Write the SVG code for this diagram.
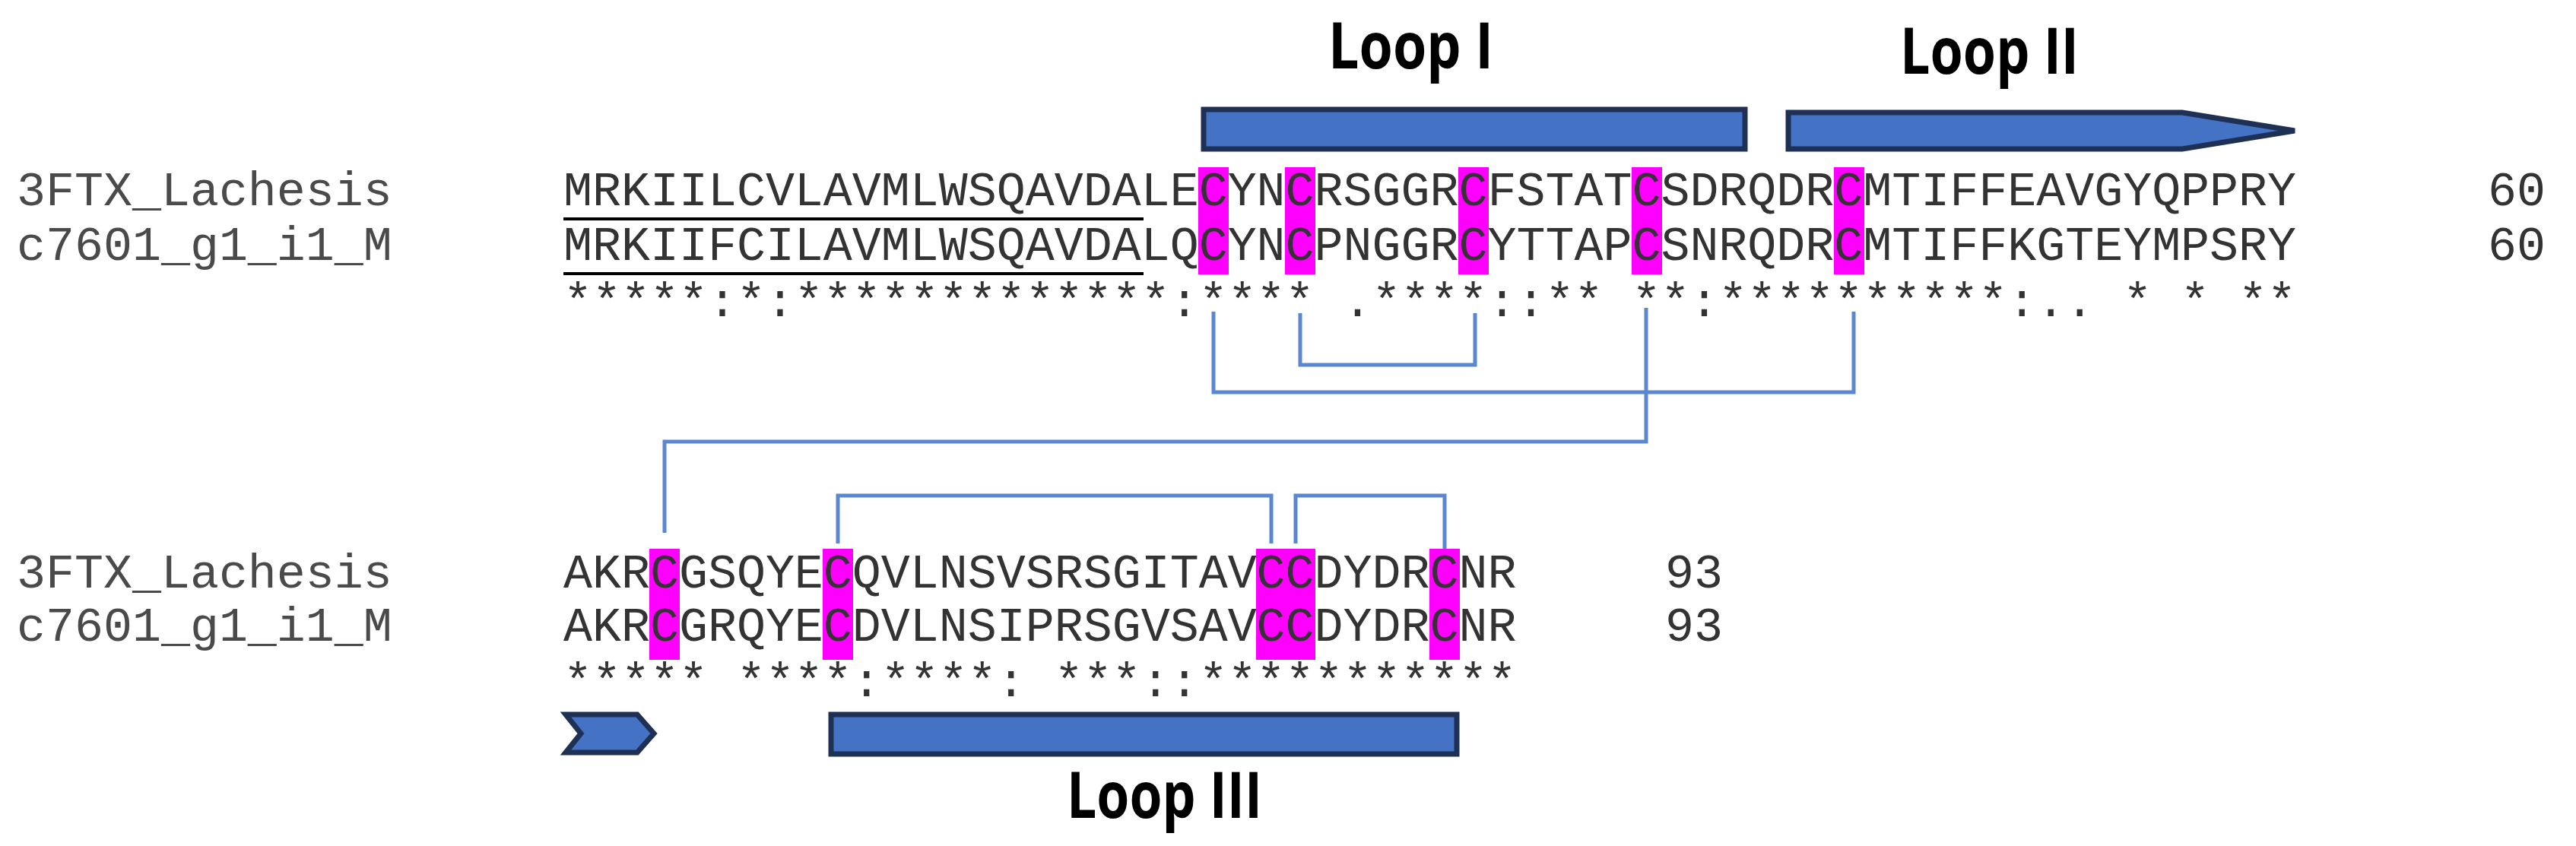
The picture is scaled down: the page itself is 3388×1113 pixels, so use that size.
<svg xmlns="http://www.w3.org/2000/svg" width="3388" height="1113" viewBox="0 0 3388 1113">
<style>
.seq{font-family:"Liberation Mono","Courier New",monospace;font-size:63.3px;fill:#333;white-space:pre}
.name{font-family:"Liberation Mono","Courier New",monospace;font-size:63.3px;fill:#4a4a4a;white-space:pre}
.lbl{font-family:"Open Sans","Liberation Sans",sans-serif;font-weight:bold;font-size:84px;fill:#000}
.cys{fill:#FF00FF}
.ss{fill:none;stroke:#5B86D0;stroke-width:5}
.struct{fill:#4472C4;stroke:#1F3055;stroke-width:7}
</style>
<rect width="3388" height="1113" fill="#fff"/>
<g id="cysteines">
<rect class="cys" x="1576" y="220" width="40" height="141"/>
<rect class="cys" x="1690" y="220" width="40" height="141"/>
<rect class="cys" x="1918" y="220" width="40" height="141"/>
<rect class="cys" x="2146" y="220" width="40" height="141"/>
<rect class="cys" x="2412" y="220" width="40" height="141"/>
<rect class="cys" x="854" y="722" width="40" height="146"/>
<rect class="cys" x="1082" y="722" width="40" height="146"/>
<rect class="cys" x="1652" y="722" width="78" height="146"/>
<rect class="cys" x="1880" y="722" width="40" height="146"/>
</g>
<g id="block1">
<text class="name" x="22" y="270">3FTX_Lachesis</text>
<text class="name" x="22" y="342">c7601_g1_i1_M</text>
<text class="seq" x="741" y="270">MRKIILCVLAVMLWSQAVDALECYNCRSGGRCFSTATCSDRQDRCMTIFFEAVGYQPPRY</text>
<text class="seq" x="741" y="342">MRKIIFCILAVMLWSQAVDALQCYNCPNGGRCYTTAPCSNRQDRCMTIFFKGTEYMPSRY</text>
<text class="seq" x="741" y="416">*****:*:*************:**** .****::** **:**********:.. * * **</text>
<text class="seq" x="3272" y="270">60</text>
<text class="seq" x="3272" y="342">60</text>
<rect x="741" y="286" width="763" height="4" fill="#000"/>
<rect x="741" y="358" width="763" height="4" fill="#000"/>
</g>
<g id="block2">
<text class="name" x="22" y="773">3FTX_Lachesis</text>
<text class="name" x="22" y="843">c7601_g1_i1_M</text>
<text class="seq" x="741" y="773">AKRCGSQYECQVLNSVSRSGITAVCCDYDRCNR</text>
<text class="seq" x="741" y="843">AKRCGRQYECDVLNSIPRSGVSAVCCDYDRCNR</text>
<text class="seq" x="741" y="916">***** ****:****: ***::***********</text>
<text class="seq" x="2190" y="773">93</text>
<text class="seq" x="2190" y="843">93</text>
</g>
<g id="loop1">
<rect class="struct" x="1583" y="144" width="712" height="52"/>
<text class="lbl" x="1747" y="90" textLength="217" lengthAdjust="spacingAndGlyphs">Loop I</text>
</g>
<g id="loop2">
<polygon class="struct" points="2352,148 2870,148 3018,172 2870,196 2352,196"/>
<text class="lbl" x="2499" y="97" textLength="235" lengthAdjust="spacingAndGlyphs">Loop II</text>
</g>
<g id="strand0">
<polygon class="struct" points="744,940 838,940 860,965 838,990 744,990 764,965"/>
</g>
<g id="loop3">
<rect class="struct" x="1093" y="940" width="823" height="52"/>
<text class="lbl" x="1403" y="1076" textLength="257" lengthAdjust="spacingAndGlyphs">Loop III</text>
</g>
<g id="connectors">
<polyline class="ss" points="1710,412 1710,480 1940,480 1940,412"/>
<polyline class="ss" points="1596,410 1596,516 2438,516 2438,410"/>
<polyline class="ss" points="2165,405 2165,581 874,581 874,701"/>
<polyline class="ss" points="1102,715 1102,652 1672,652 1672,715"/>
<polyline class="ss" points="1704,715 1704,652 1900,652 1900,722"/>
</g>
</svg>
